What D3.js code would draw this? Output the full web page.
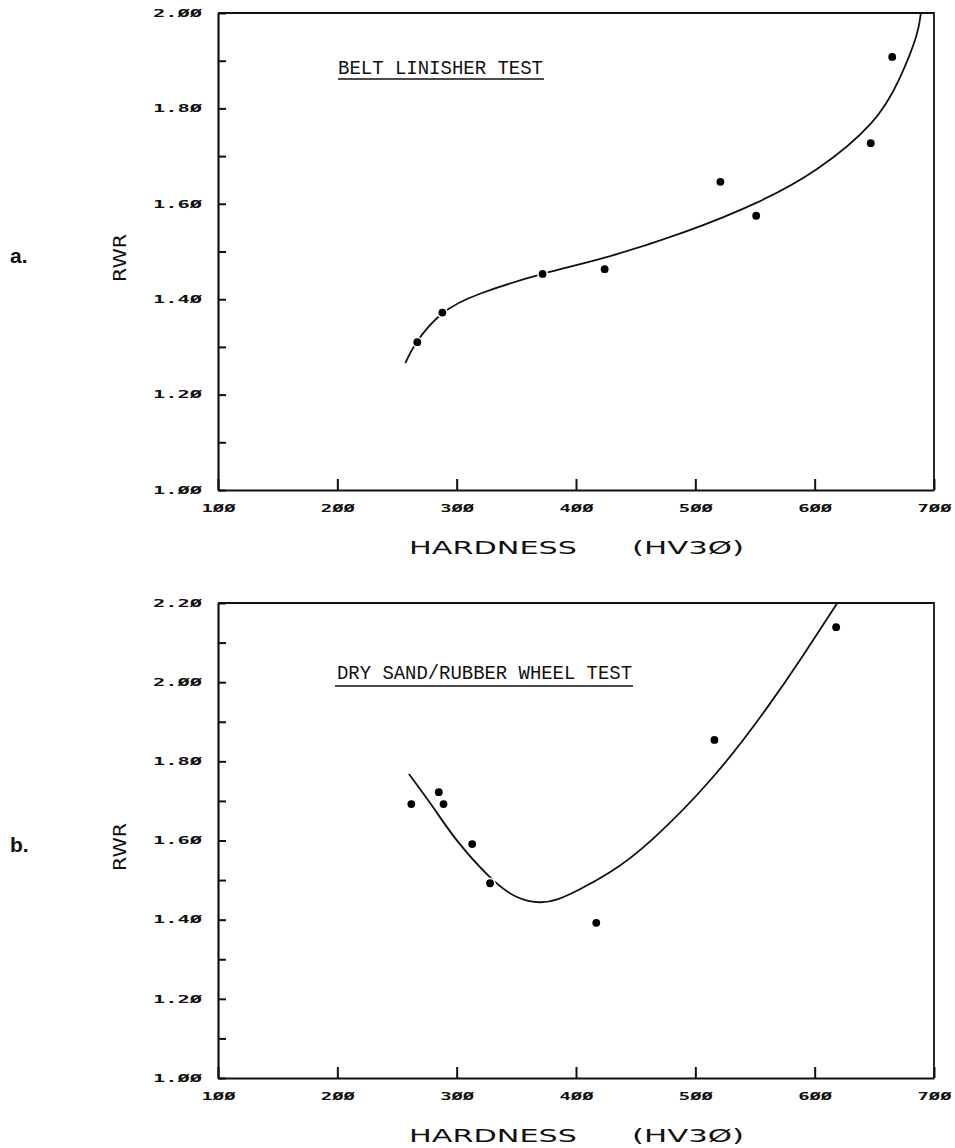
<!DOCTYPE html>
<html><head><meta charset="utf-8">
<script src="https://cdn.jsdelivr.net/npm/d3@7"></script>
<style>
body{margin:0;background:#fff;}
svg{display:block;}
</style></head>
<body>
<svg id="c" width="955" height="1148"></svg>
<script>
// ---------- data ----------
const xTicks = [100, 200, 300, 400, 500, 600, 700];
const yTicksA = [1.0, 1.2, 1.4, 1.6, 1.8, 2.0];
const yMinorA = [1.0, 1.1, 1.2, 1.3, 1.4, 1.5, 1.6, 1.7, 1.8, 1.9, 2.0];
const yTicksB = [1.0, 1.2, 1.4, 1.6, 1.8, 2.0, 2.2];
const yMinorB = [1.0, 1.1, 1.2, 1.3, 1.4, 1.5, 1.6, 1.7, 1.8, 1.9, 2.0, 2.1, 2.2];

// belt linisher test: measured points (hardness HV30, RWR)
const beltHardness = [267, 288, 372, 424, 521, 551, 647, 665];
const beltRWR      = [1.31, 1.372, 1.453, 1.463, 1.646, 1.575, 1.727, 1.908];
// fitted curve
const beltFitH = [257, 267, 288, 320, 372, 424, 490, 551, 602, 647, 671, 685, 689];
const beltFitR = [1.266, 1.312, 1.37, 1.412, 1.453, 1.487, 1.54, 1.602, 1.673, 1.768, 1.862, 1.95, 2.0];

// dry sand / rubber wheel test
const sandHardness = [262, 285, 289, 313, 328, 417, 516, 618];
const sandRWR      = [1.692, 1.722, 1.692, 1.591, 1.492, 1.392, 1.854, 2.139];
const sandFitH = [260, 280, 300, 327, 350, 370, 385, 402, 429, 464, 515, 560, 590, 619];
const sandFitR = [1.768, 1.685, 1.601, 1.51, 1.458, 1.444, 1.452, 1.475, 1.521, 1.603, 1.761, 1.935, 2.066, 2.2];

const titleA = "BELT LINISHER TEST";
const titleB = "DRY SAND/RUBBER WHEEL TEST";
const xTitle1 = "HARDNESS", xTitle2 = "(HV3\u00D8)";
const yTitle = "RWR";

// ---------- drawing ----------
const svg = d3.select("#c");
const zfmt = s => s.replace(/0/g, "\u00D8");

function panel(cfg) {
  const x = d3.scaleLinear().domain([100, 700]).range([218, 934]);
  const y = d3.scaleLinear().domain(cfg.yDomain).range([cfg.bottom, cfg.top]);
  const g = svg.append("g");
  const clipId = "clip" + cfg.id;
  svg.append("clipPath").attr("id", clipId).append("rect")
    .attr("x", 218).attr("y", cfg.top).attr("width", 716).attr("height", cfg.bottom - cfg.top);

  // frame (top & right)
  g.append("path")
    .attr("d", `M218,${cfg.top}H934V${cfg.bottom}`)
    .attr("fill", "none").attr("stroke", "#111").attr("stroke-width", 1.8);

  const majors = new Set(cfg.yTicks.map(d => d.toFixed(1)));
  const yAxis = d3.axisLeft(y).tickValues(cfg.yMinor).tickSizeInner(-8).tickSizeOuter(0)
    .tickPadding(16)
    .tickFormat(d => majors.has(d.toFixed(1)) ? zfmt(d.toFixed(2)) : "");
  const ga = g.append("g").attr("transform", "translate(218,0)").call(yAxis);
  ga.select(".domain").attr("stroke", "#111").attr("stroke-width", 2.2);
  ga.selectAll(".tick line").attr("stroke", "#111").attr("stroke-width", 2);
  ga.selectAll(".tick text")
    .attr("font-family", "DejaVu Sans Mono").attr("font-weight", "bold").attr("font-size", 10)
    .attr("fill", "#111")
    .attr("textLength", 49).attr("lengthAdjust", "spacingAndGlyphs");

  const xAxis = d3.axisBottom(x).tickValues(xTicks).tickSizeInner(-11).tickSizeOuter(0)
    .tickPadding(15).tickFormat(d => zfmt(String(d)));
  const gx = g.append("g").attr("transform", `translate(0,${cfg.bottom})`).call(xAxis);
  gx.select(".domain").attr("stroke", "#111").attr("stroke-width", 2.2);
  gx.selectAll(".tick line").attr("stroke", "#111").attr("stroke-width", 2);
  gx.selectAll(".tick text")
    .attr("font-family", "DejaVu Sans Mono").attr("font-weight", "bold").attr("font-size", 10)
    .attr("fill", "#111")
    .attr("textLength", 34).attr("lengthAdjust", "spacingAndGlyphs");

  // fitted curve
  const fit = cfg.fitH.map((h, i) => [h, cfg.fitR[i]]);
  g.append("path").datum(fit)
    .attr("clip-path", `url(#${clipId})`)
    .attr("d", d3.line().x(d => x(d[0])).y(d => y(d[1])).curve(d3.curveNatural))
    .attr("fill", "none").attr("stroke", "#111").attr("stroke-width", 1.8);

  // points: white halo (pen lift) then solid dot
  const pts = cfg.ptH.map((h, i) => [h, cfg.ptR[i]]);
  g.selectAll("circle.h").data(pts).join("circle").attr("class", "h")
    .attr("cx", d => x(d[0])).attr("cy", d => y(d[1])).attr("r", 5.5)
    .attr("fill", "#fff");
  g.selectAll("circle.p").data(pts).join("circle").attr("class", "p")
    .attr("cx", d => x(d[0])).attr("cy", d => y(d[1])).attr("r", 3.9)
    .attr("fill", "#000");

  // panel title with underline
  g.append("text").attr("x", cfg.tx).attr("y", cfg.ty)
    .attr("font-family", "Liberation Mono").attr("font-size", 20).attr("fill", "#111")
    .attr("textLength", cfg.tlen).attr("lengthAdjust", "spacingAndGlyphs")
    .text(cfg.title);
  g.append("line").attr("x1", cfg.ux1).attr("x2", cfg.ux2).attr("y1", cfg.uy).attr("y2", cfg.uy)
    .attr("stroke", "#111").attr("stroke-width", 1.6);

  // x title
  g.append("text").attr("x", 409).attr("y", cfg.xty)
    .attr("font-family", "DejaVu Sans").attr("font-size", 18).attr("fill", "#111")
    .attr("textLength", 168).attr("lengthAdjust", "spacingAndGlyphs").text(xTitle1);
  g.append("text").attr("x", 632).attr("y", cfg.xty)
    .attr("font-family", "DejaVu Sans").attr("font-size", 18).attr("fill", "#111")
    .attr("textLength", 112).attr("lengthAdjust", "spacingAndGlyphs").text(xTitle2);

  // y title (rotated)
  g.append("text").attr("transform", `translate(126,${cfg.ytc}) rotate(-90)`)
    .attr("text-anchor", "middle")
    .attr("font-family", "DejaVu Sans").attr("font-size", 17).attr("fill", "#111")
    .attr("textLength", 48).attr("lengthAdjust", "spacingAndGlyphs").text(yTitle);

  // panel letter
  g.append("text").attr("x", 10).attr("y", cfg.ly)
    .attr("font-family", "Liberation Sans").attr("font-weight", "bold").attr("font-size", 21)
    .attr("fill", "#111").text(cfg.letter);
}

panel({id: "a", yDomain: [1, 2], top: 13, bottom: 490, yTicks: yTicksA, yMinor: yMinorA,
  fitH: beltFitH, fitR: beltFitR, ptH: beltHardness, ptR: beltRWR,
  title: titleA, tx: 338, ty: 74, tlen: 205, ux1: 338, ux2: 544, uy: 79,
  xty: 554, ytc: 258, ly: 263, letter: "a."});

panel({id: "b", yDomain: [1, 2.2], top: 603, bottom: 1078, yTicks: yTicksB, yMinor: yMinorB,
  fitH: sandFitH, fitR: sandFitR, ptH: sandHardness, ptR: sandRWR,
  title: titleB, tx: 337, ty: 679, tlen: 295, ux1: 335, ux2: 633, uy: 686,
  xty: 1142, ytc: 847, ly: 852, letter: "b."});
</script>
</body></html>
